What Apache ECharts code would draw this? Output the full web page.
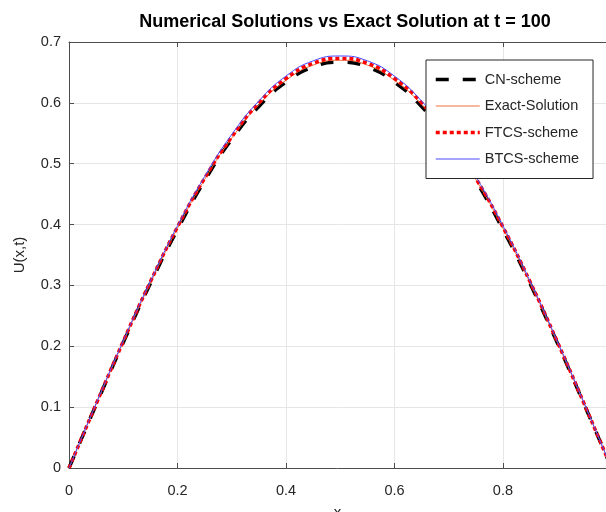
<!DOCTYPE html>
<html>
<head>
<meta charset="utf-8">
<script src="https://cdn.jsdelivr.net/npm/echarts@6/dist/echarts.min.js"></script>
<style>
  html, body { margin: 0; padding: 0; background: #fff; }
  #main { width: 606px; height: 512px; }
</style>
</head>
<body>
<div id="main"></div>
<script>
// x grid of the solution (step 0.05)
var xs = [0, 0.05, 0.1, 0.15, 0.2, 0.25, 0.3, 0.35, 0.4, 0.45, 0.5,
          0.55, 0.6, 0.65, 0.7, 0.75, 0.8, 0.85, 0.9, 0.95, 1];
// values
var cnVals    = [0, 0.104, 0.206, 0.303, 0.392, 0.472, 0.540, 0.594, 0.634, 0.659, 0.667,
                 0.659, 0.634, 0.594, 0.540, 0.472, 0.392, 0.303, 0.206, 0.104, 0];
var exactVals = [0, 0.105, 0.207, 0.304, 0.394, 0.474, 0.542, 0.597, 0.637, 0.662, 0.670,
                 0.662, 0.637, 0.597, 0.542, 0.474, 0.394, 0.304, 0.207, 0.105, 0];
var ftcsVals  = [0, 0.105, 0.208, 0.306, 0.396, 0.476, 0.544, 0.600, 0.640, 0.665, 0.673,
                 0.665, 0.640, 0.600, 0.544, 0.476, 0.396, 0.306, 0.208, 0.105, 0];
var btcsVals  = [0, 0.106, 0.209, 0.307, 0.398, 0.479, 0.548, 0.603, 0.644, 0.669, 0.677,
                 0.669, 0.644, 0.603, 0.548, 0.479, 0.398, 0.307, 0.209, 0.106, 0];

function pairs(vals) {
  var out = [];
  for (var i = 0; i < xs.length; i++) out.push([xs[i], vals[i]]);
  return out;
}

var font = 'Liberation Sans, Helvetica, Arial, sans-serif';
var cnStyle    = { color: '#000', width: 3.5, type: [13, 14] };
var exactStyle = { color: '#f0703a', width: 1 };
var ftcsStyle  = { color: '#ff0000', width: 3.5, type: [4, 3] };
var btcsStyle  = { color: '#4a4aff', width: 1 };

var chart = echarts.init(document.getElementById('main'));

var option = {
  animation: false,
  backgroundColor: '#fff',
  title: {
    text: 'Numerical Solutions vs Exact Solution at t = 100',
    left: 340, top: 8, textAlign: 'center',
    textStyle: { fontFamily: font, fontSize: 18, fontWeight: 'bold', color: '#000' }
  },
  legend: {
    orient: 'vertical',
    left: 426, top: 60,
    padding: [12, 14, 12, 8],
    itemWidth: 44, itemHeight: 14, itemGap: 11.5, itemTextGap: 8,
    backgroundColor: '#fff',
    borderColor: '#262626', borderWidth: 1,
    itemStyle: { opacity: 0 },
    textStyle: { fontFamily: font, fontSize: 14.5, color: '#262626' },
    data: [
      { name: 'CN-scheme', lineStyle: cnStyle },
      { name: 'Exact-Solution', lineStyle: exactStyle },
      { name: 'FTCS-scheme', lineStyle: ftcsStyle },
      { name: 'BTCS-scheme', lineStyle: btcsStyle }
    ]
  },
  grid: { left: 69, top: 42, right: 0, bottom: 44, outerBoundsMode: 'none', containLabel: false },
  xAxis: [{
    type: 'value', min: 0, max: 0.99, interval: 0.2,
    name: 'x', nameLocation: 'middle', nameGap: 37,
    nameTextStyle: { fontFamily: font, fontSize: 15, color: '#262626' },
    axisLine: { show: true, lineStyle: { color: '#4d4d4d', width: 1 } },
    axisTick: { show: true, inside: true, length: 5, lineStyle: { color: '#4d4d4d' } },
    axisLabel: { fontFamily: font, fontSize: 14.5, color: '#262626', margin: 15,
                 formatter: function (v) { return v > 0.95 ? '' : String(+v.toFixed(1)); } },
    splitLine: { show: true, lineStyle: { color: '#e6e6e6', width: 1 } }
  }, {
    type: 'value', min: 0, max: 0.99, interval: 0.2, position: 'top',
    axisLine: { show: true, lineStyle: { color: '#4d4d4d', width: 1 } },
    axisTick: { show: true, inside: true, length: 5, lineStyle: { color: '#4d4d4d' } },
    axisLabel: { show: false },
    splitLine: { show: false }
  }],
  yAxis: {
    type: 'value', min: 0, max: 0.7, interval: 0.1,
    name: 'U(x,t)', nameLocation: 'middle', nameGap: 42,
    nameTextStyle: { fontFamily: font, fontSize: 15, color: '#262626' },
    axisLine: { show: true, lineStyle: { color: '#4d4d4d', width: 1 } },
    axisTick: { show: true, inside: true, length: 5, lineStyle: { color: '#4d4d4d' } },
    axisLabel: { fontFamily: font, fontSize: 14.5, color: '#262626', margin: 8,
                 formatter: function (v) { return String(+v.toFixed(1)); } },
    splitLine: { show: true, lineStyle: { color: '#e6e6e6', width: 1 } }
  },
  series: [{
    name: 'CN-scheme', type: 'line', smooth: true, symbol: 'none',
    data: pairs(cnVals), lineStyle: cnStyle, itemStyle: { color: '#000' }
  }, {
    name: 'Exact-Solution', type: 'line', smooth: true, symbol: 'none',
    data: pairs(exactVals), lineStyle: exactStyle, itemStyle: { color: '#f0703a' }
  }, {
    name: 'FTCS-scheme', type: 'line', smooth: true, symbol: 'none',
    data: pairs(ftcsVals), lineStyle: ftcsStyle, itemStyle: { color: '#ff0000' }
  }, {
    name: 'BTCS-scheme', type: 'line', smooth: true, symbol: 'none',
    data: pairs(btcsVals), lineStyle: btcsStyle, itemStyle: { color: '#4a4aff' }
  }]
};
chart.setOption(option);
</script>
</body>
</html>
